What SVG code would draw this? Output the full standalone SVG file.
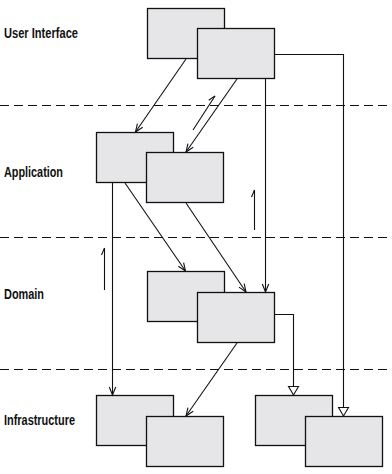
<svg xmlns="http://www.w3.org/2000/svg" width="392" height="474" viewBox="0 0 392 474">
<style>
.box{fill:#e6e6e8;stroke:#111;stroke-width:1.3}
.lbl{font-family:"Liberation Sans Narrow","Liberation Sans",Arial,sans-serif;font-weight:bold;font-size:14px;fill:#111}
.sep{stroke:#111;stroke-width:1.2;stroke-dasharray:9 5;fill:none}
.c{stroke:#111;stroke-width:1.1;fill:none}
</style>
<defs>
<marker id="v" markerUnits="userSpaceOnUse" markerWidth="10" markerHeight="10" refX="8" refY="4" orient="auto" overflow="visible">
<path d="M0,0.8 L8,4 L0,7.2" fill="none" stroke="#111" stroke-width="1.1"/>
</marker>
<marker id="half" markerUnits="userSpaceOnUse" markerWidth="10" markerHeight="10" refX="8" refY="4" orient="auto" overflow="visible">
<path d="M1,1 L8,4" fill="none" stroke="#111" stroke-width="1.1"/>
</marker>
<marker id="tri" markerUnits="userSpaceOnUse" markerWidth="12" markerHeight="12" refX="9" refY="5.5" orient="auto" overflow="visible">
<path d="M0.5,0.5 L9,5.5 L0.5,10.5 Z" fill="#fff" stroke="#111" stroke-width="1.1"/>
</marker>
</defs>
<g id="layers">
<line class="sep" x1="0" y1="105.5" x2="392" y2="105.5"/>
<line class="sep" x1="0" y1="237.5" x2="392" y2="237.5"/>
<line class="sep" x1="0" y1="369.5" x2="392" y2="369.5"/>
<text class="lbl" x="4" y="38" textLength="74" lengthAdjust="spacingAndGlyphs">User Interface</text>
<text class="lbl" x="4" y="177" textLength="59" lengthAdjust="spacingAndGlyphs">Application</text>
<text class="lbl" x="4" y="299" textLength="40" lengthAdjust="spacingAndGlyphs">Domain</text>
<text class="lbl" x="4" y="425" textLength="71" lengthAdjust="spacingAndGlyphs">Infrastructure</text>
</g>
<g id="ui1"><rect class="box" x="147.5" y="8.5" width="77" height="50"/></g>
<g id="ui2"><rect class="box" x="197.5" y="28.5" width="77" height="50"/></g>
<g id="app1"><rect class="box" x="96.5" y="132.5" width="77" height="50"/></g>
<g id="app2"><rect class="box" x="146.5" y="152.5" width="77" height="50"/></g>
<g id="dom1"><rect class="box" x="147.5" y="271.5" width="77" height="50"/></g>
<g id="dom2"><rect class="box" x="197.5" y="292.5" width="77" height="50"/></g>
<g id="inf1"><rect class="box" x="96.5" y="395.5" width="77" height="50"/></g>
<g id="inf2"><rect class="box" x="146.5" y="416.5" width="77" height="50"/></g>
<g id="inf3"><rect class="box" x="255.5" y="395.5" width="77" height="50"/></g>
<g id="inf4"><rect class="box" x="305.5" y="416.5" width="77" height="50"/></g>
<g id="connectors">
<line class="c" x1="186" y1="59" x2="135.5" y2="132" marker-end="url(#v)"/>
<line class="c" x1="237" y1="79" x2="186" y2="152" marker-end="url(#v)"/>
<line class="c" x1="193" y1="130" x2="215" y2="96" marker-end="url(#half)"/>
<line class="c" x1="265.5" y1="79" x2="265.5" y2="292" marker-end="url(#v)"/>
<polyline class="c" points="275,54.5 343.5,54.5 343.5,416" marker-end="url(#tri)"/>
<line class="c" x1="254.5" y1="230" x2="254.5" y2="190" marker-end="url(#half)"/>
<line class="c" x1="112.5" y1="183" x2="112.5" y2="395" marker-end="url(#v)"/>
<line class="c" x1="125" y1="183" x2="185.5" y2="271" marker-end="url(#v)"/>
<line class="c" x1="186" y1="203" x2="246" y2="292" marker-end="url(#v)"/>
<line class="c" x1="104.5" y1="290" x2="104.5" y2="248" marker-end="url(#half)"/>
<polyline class="c" points="275,314.5 293.5,314.5 293.5,395" marker-end="url(#tri)"/>
<line class="c" x1="237" y1="343" x2="186" y2="416" marker-end="url(#v)"/>
</g>
</svg>
